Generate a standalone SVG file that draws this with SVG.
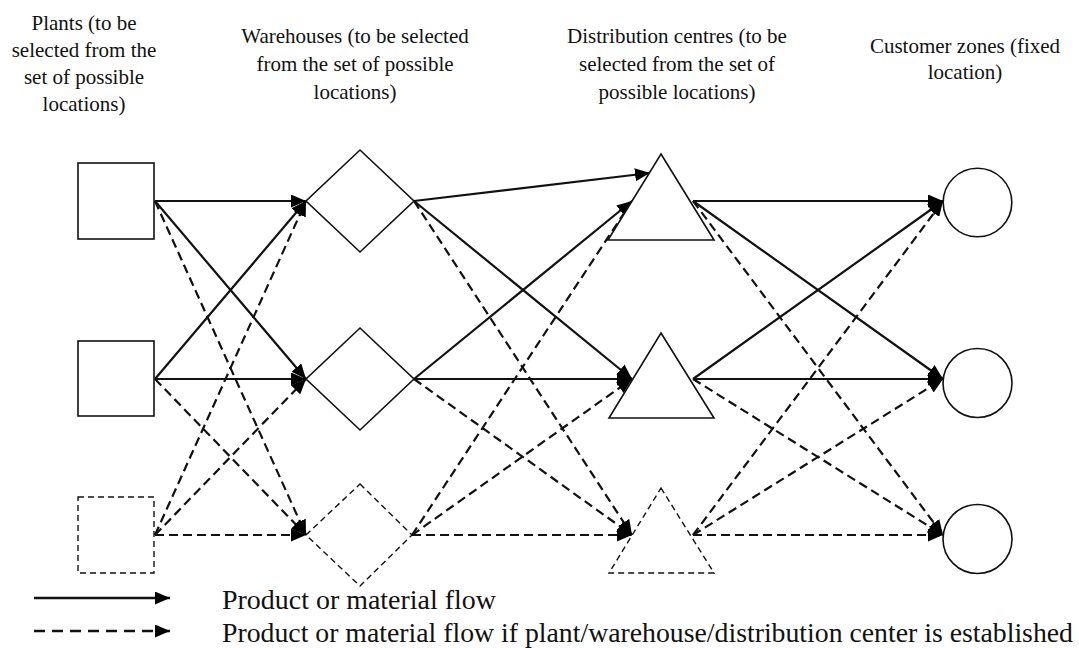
<svg xmlns="http://www.w3.org/2000/svg" width="1079" height="648" viewBox="0 0 1079 648">
<defs>
<marker id="ah" viewBox="0 0 15 13" refX="15" refY="6.5" markerWidth="15" markerHeight="13" markerUnits="userSpaceOnUse" orient="auto">
<path d="M0,0 L15,6.5 L0,13 z" fill="#000"/>
</marker>
</defs>
<style>
.hd{font-family:"Liberation Serif","Times New Roman",serif;font-size:21px;fill:#111;text-anchor:middle}
.lg{font-family:"Liberation Serif","Times New Roman",serif;font-size:28px;fill:#111}
.sh{fill:#fff;stroke:#111;stroke-width:1.6}
.shd{fill:#fff;stroke:#111;stroke-width:1.4;stroke-dasharray:6 4}
.s{stroke:#111;stroke-width:2.2;fill:none;marker-end:url(#ah)}
.d{stroke:#111;stroke-width:2.2;fill:none;stroke-dasharray:9 5;marker-end:url(#ah)}
.ls{stroke:#111;stroke-width:2.5;fill:none;marker-end:url(#ah)}
.ld{stroke:#111;stroke-width:2.5;fill:none;stroke-dasharray:11 7;marker-end:url(#ah)}
</style>
<rect width="1079" height="648" fill="#fff"/>
<g id="headers">
<text class="hd"><tspan x="84" y="29.5">Plants (to be</tspan><tspan x="84" y="56.5">selected from the</tspan><tspan x="84" y="83.5">set of possible</tspan><tspan x="84" y="110.5">locations)</tspan></text>
<text class="hd"><tspan x="355" y="43">Warehouses (to be selected</tspan><tspan x="355" y="71">from the set of possible</tspan><tspan x="355" y="99">locations)</tspan></text>
<text class="hd"><tspan x="677" y="43">Distribution centres (to be</tspan><tspan x="677" y="71">selected from the set of</tspan><tspan x="677" y="99">possible locations)</tspan></text>
<text class="hd"><tspan x="965" y="53">Customer zones (fixed</tspan><tspan x="965" y="79">location)</tspan></text>
</g>
<g id="connectors">
<line class="s" x1="155" y1="201" x2="306" y2="201"/>
<line class="s" x1="155" y1="201" x2="306" y2="379"/>
<line class="s" x1="155" y1="379" x2="306" y2="201"/>
<line class="s" x1="155" y1="379" x2="306" y2="379"/>
<line class="d" x1="155" y1="201" x2="306" y2="535"/>
<line class="d" x1="155" y1="379" x2="306" y2="535"/>
<line class="d" x1="155" y1="535" x2="306" y2="201"/>
<line class="d" x1="155" y1="535" x2="306" y2="379"/>
<line class="d" x1="155" y1="535" x2="306" y2="535"/>
<line class="s" x1="414" y1="201" x2="650" y2="173"/>
<line class="s" x1="414" y1="201" x2="632" y2="379"/>
<line class="s" x1="414" y1="379" x2="632" y2="201"/>
<line class="s" x1="414" y1="379" x2="632" y2="379"/>
<line class="d" x1="414" y1="201" x2="632" y2="535"/>
<line class="d" x1="414" y1="379" x2="632" y2="535"/>
<line class="d" x1="412" y1="535" x2="632" y2="201"/>
<line class="d" x1="412" y1="535" x2="632" y2="379"/>
<line class="d" x1="412" y1="535" x2="632" y2="535"/>
<line class="s" x1="693" y1="201" x2="943" y2="201"/>
<line class="s" x1="693" y1="201" x2="943" y2="379"/>
<line class="s" x1="693" y1="379" x2="943" y2="201"/>
<line class="s" x1="693" y1="379" x2="943" y2="379"/>
<line class="d" x1="693" y1="201" x2="943" y2="535"/>
<line class="d" x1="693" y1="379" x2="943" y2="535"/>
<line class="d" x1="693" y1="535" x2="943" y2="201"/>
<line class="d" x1="693" y1="535" x2="943" y2="379"/>
<line class="d" x1="693" y1="535" x2="943" y2="535"/>
</g>
<g id="plant1"><rect class="sh" x="78" y="163" width="76" height="76"/></g>
<g id="plant2"><rect class="sh" x="78" y="341" width="76" height="75"/></g>
<g id="plant3"><rect class="shd" x="78" y="497" width="76" height="76"/></g>
<g id="warehouse1"><polygon class="sh" points="360,150 414,201 360,252 306,201"/></g>
<g id="warehouse2"><polygon class="sh" points="360,328 414,379 360,430 306,379"/></g>
<g id="warehouse3"><polygon class="shd" points="360,484 412,535 360,586 306,535"/></g>
<g id="dc1"><polygon class="sh" points="661,154 714,240 608,240"/></g>
<g id="dc2"><polygon class="sh" points="661,333 714,418 609,418"/></g>
<g id="dc3"><polygon class="shd" points="661,488 714,573 609,573"/></g>
<g id="customer1"><circle class="sh" cx="977.5" cy="202.5" r="34.3"/></g>
<g id="customer2"><circle class="sh" cx="977.5" cy="383" r="34.5"/></g>
<g id="customer3"><circle class="sh" cx="977.5" cy="539" r="34.5"/></g>
<g id="legend">
<line class="ls" x1="34" y1="598" x2="170" y2="598"/>
<line class="ld" x1="34" y1="631" x2="170" y2="631"/>
<text class="lg" x="222" y="609" textLength="274" lengthAdjust="spacingAndGlyphs">Product or material flow</text>
<text class="lg" x="222" y="642" textLength="851" lengthAdjust="spacingAndGlyphs">Product or material flow if plant/warehouse/distribution center is established</text>
</g>
</svg>
